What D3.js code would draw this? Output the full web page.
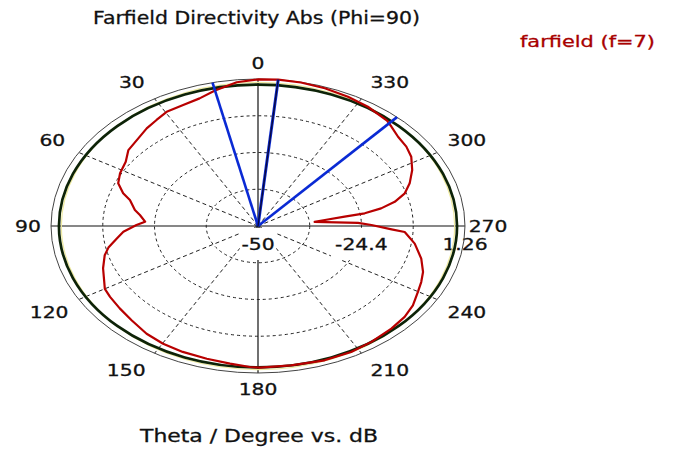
<!DOCTYPE html>
<html>
<head>
<meta charset="utf-8">
<script src="https://cdn.jsdelivr.net/npm/d3@7"></script>
<style>
  html, body { margin: 0; padding: 0; background: #fff; }
  svg { display: block; }
  text { font-family: "DejaVu Sans", Verdana, sans-serif; fill: #111; stroke: #111; stroke-width: 0.3; }
</style>
</head>
<body>
<svg id="chart" width="675" height="450"></svg>
<script>
// Farfield directivity cut, Phi = 90, theta in degrees (counter-clockwise from top), values in dB
const thetaDeg = [0, 6, 12.7, 18, 23.7, 29.6, 34.2, 39, 44, 50.5, 55.6, 61.7, 66.7, 71.1, 74, 79.6,
  82.5, 86.9, 89.3, 93.4, 97.2, 101.5, 105, 111, 120, 124, 130, 136.4, 143.7, 150.2, 157, 164.7,
  171.8, 177.7, 180.6, 189.6, 199.4, 207.7, 214.8, 222.7, 228.9, 234.2, 239.8, 244.2, 248.6, 254.3,
  261, 266.7, 268, 270.7, 272.5, 275.8, 277.2, 278.6, 279.5, 281.4, 284, 287.4, 291.6, 297.1, 302.5,
  307, 311.9, 316.4, 319, 326.8, 333.7, 341, 348, 354.4, 360];
const directivityDb = [1.1, 0.4, -1.6, -3.2, -3.9, -4.2, -5.3, -6.2, -7.4, -8.4, -10.3, -11.2, -12.3, -14.7, -17.0, -19.0,
  -20.5, -22.0, -19.9, -16.6, -14.7, -12.2, -10.7, -8.9, -6.2, -5.8, -5.3, -4.6, -3.4, -2.7, -2.3, -2.0,
  -1.5, -0.8, -0.6, -0.7, -0.35, -0.35, -0.8, -1.3, -1.8, -2.7, -4.2, -5.1, -6.1, -8.0,
  -10.7, -13.6, -16.9, -21.9, -25.2, -35.9, -33.3, -28.3, -23.2, -18.9, -15.1, -11.9, -9.6, -7.1, -5.0,
  -4.0, -3.4, -2.1, -1.3, -0.3, 0.3, 0.8, 1.15, 1.26, 1.1];

// main lobe direction and 3 dB beamwidth limits
const mainLobeDeg = 354.4;
const beamLimitsDeg = [12.7, 317.8];
const refLevelDb = -0.7;

// angular and radial tick labels
const angleTicks = [0, 30, 60, 90, 120, 150, 180, 210, 240, 270, 300, 330];
const radialTicks = [-50, -24.4, 1.26];

const titleText = "Farfield Directivity Abs (Phi=90)";
const legendText = "farfield (f=7)";
const axisText = "Theta / Degree vs. dB";

const svg = d3.select("#chart");
const cx = 258, cy = 226, R = 147, sx = 1.408;
const rScale = d3.scaleLinear().domain([radialTicks[0], radialTicks[radialTicks.length - 1]]).range([0, R]);
const rad = d => d * Math.PI / 180;
const pt = (theta, r) => [cx - sx * r * Math.sin(rad(theta)), cy - r * Math.cos(rad(theta))];

const grid = svg.append("g");

// dashed rings at quarter steps of the radial range
const [lo, hi] = rScale.domain();
const ringLevels = d3.range(1, 4).map(i => lo + i * (hi - lo) / 4);
grid.selectAll("ellipse.ring").data(ringLevels).join("ellipse")
  .attr("cx", cx).attr("cy", cy)
  .attr("rx", d => sx * rScale(d)).attr("ry", d => rScale(d))
  .attr("fill", "none").attr("stroke", "#222").attr("stroke-width", 1)
  .attr("stroke-dasharray", "3,3");

// spokes: solid on the principal axes, dashed elsewhere
grid.selectAll("line.spoke").data(angleTicks.filter(a => a % 90 !== 0)).join("line")
  .attr("x1", cx).attr("y1", cy)
  .attr("x2", d => pt(d, R)[0]).attr("y2", d => pt(d, R)[1])
  .attr("stroke", "#222").attr("stroke-width", 1).attr("stroke-dasharray", "4,3");
grid.selectAll("line.axis").data(angleTicks.filter(a => a % 90 === 0)).join("line")
  .attr("x1", cx).attr("y1", cy)
  .attr("x2", d => pt(d, R)[0]).attr("y2", d => pt(d, R)[1])
  .attr("stroke", "#111").attr("stroke-width", 1.2);

// white plates behind the radial labels near the centre
const radialG = svg.append("g");
const radialFont = 16, labelScale = 1.27;
radialTicks.forEach((v, i) => {
  if (i === radialTicks.length - 1) return;
  const x = cx + sx * rScale(v);
  const w = (String(v).length * 0.6 * radialFont) * labelScale;
  radialG.append("rect")
    .attr("x", x - w / 2).attr("y", cy + 2).attr("width", w).attr("height", 32)
    .attr("fill", "#fff");
});

// outer boundary and reference level ring
svg.append("ellipse").attr("cx", cx).attr("cy", cy)
  .attr("rx", sx * R).attr("ry", R)
  .attr("fill", "none").attr("stroke", "#444").attr("stroke-width", 1);
const refR = rScale(refLevelDb);
svg.append("ellipse").attr("cx", cx).attr("cy", cy)
  .attr("rx", sx * refR - 2.4).attr("ry", refR + 2.2)
  .attr("fill", "none").attr("stroke", "#eeeaa0").attr("stroke-width", 1.2);
svg.append("ellipse").attr("cx", cx).attr("cy", cy)
  .attr("rx", sx * refR).attr("ry", refR)
  .attr("fill", "none").attr("stroke", "#0d2308").attr("stroke-width", 2.7);

// directivity curve
const pattern = thetaDeg.map((t, i) => ({ t, v: directivityDb[i] }));
const line = d3.line()
  .x(d => pt(d.t, rScale(d.v))[0])
  .y(d => pt(d.t, rScale(d.v))[1]);
svg.append("path").datum(pattern)
  .attr("d", line)
  .attr("fill", "none").attr("stroke", "#b80000").attr("stroke-width", 2.2)
  .attr("stroke-linejoin", "round");

// beam direction lines
svg.selectAll("line.beam").data(beamLimitsDeg).join("line")
  .attr("x1", cx).attr("y1", cy)
  .attr("x2", d => pt(d, R)[0]).attr("y2", d => pt(d, R)[1])
  .attr("stroke", "#0a2ad4").attr("stroke-width", 2.6);
svg.append("line")
  .attr("x1", cx).attr("y1", cy)
  .attr("x2", pt(mainLobeDeg, R)[0]).attr("y2", pt(mainLobeDeg, R)[1])
  .attr("stroke", "#0a2ad4").attr("stroke-width", 3);
svg.append("line")
  .attr("x1", cx).attr("y1", cy)
  .attr("x2", pt(mainLobeDeg, R)[0]).attr("y2", pt(mainLobeDeg, R)[1])
  .attr("stroke", "#0a0a40").attr("stroke-width", 1.4);

// radial tick labels
radialTicks.forEach(v => {
  const x = cx + sx * rScale(v);
  radialG.append("text")
    .attr("transform", `translate(${x},${cy + 24}) scale(${labelScale},1)`)
    .attr("text-anchor", "middle").attr("font-size", radialFont)
    .text(v);
});

// angle tick labels placed just outside the boundary
const labG = svg.append("g");
angleTicks.forEach(a => {
  const s = Math.sin(rad(a)), c = Math.cos(rad(a));
  const txt = String(a);
  const halfW = txt.length * 0.636 * radialFont * labelScale / 2;
  const x = cx - s * 230 - Math.sign(s) * Math.abs(c) * halfW * (Math.abs(s) > 0.1 ? 1 : 0);
  const y = cy - c * 163 - Math.sign(c) * Math.abs(s) * 5 * (Math.abs(c) > 0.1 ? 1 : 0);
  labG.append("text")
    .attr("transform", `translate(${x},${y + 6}) scale(${labelScale},1)`)
    .attr("text-anchor", "middle").attr("font-size", radialFont)
    .text(txt);
});

// title, legend and axis caption
svg.append("text").attr("x", 93).attr("y", 24)
  .attr("font-size", 17.5).attr("textLength", 327).attr("lengthAdjust", "spacingAndGlyphs")
  .text(titleText);
svg.append("text").attr("x", 520).attr("y", 47)
  .attr("font-size", 16.5).attr("textLength", 135).attr("lengthAdjust", "spacingAndGlyphs")
  .style("fill", "#a80000").style("stroke", "#a80000")
  .text(legendText);
svg.append("text").attr("x", 140).attr("y", 442)
  .attr("font-size", 17.5).attr("textLength", 238).attr("lengthAdjust", "spacingAndGlyphs")
  .text(axisText);
</script>
</body>
</html>
